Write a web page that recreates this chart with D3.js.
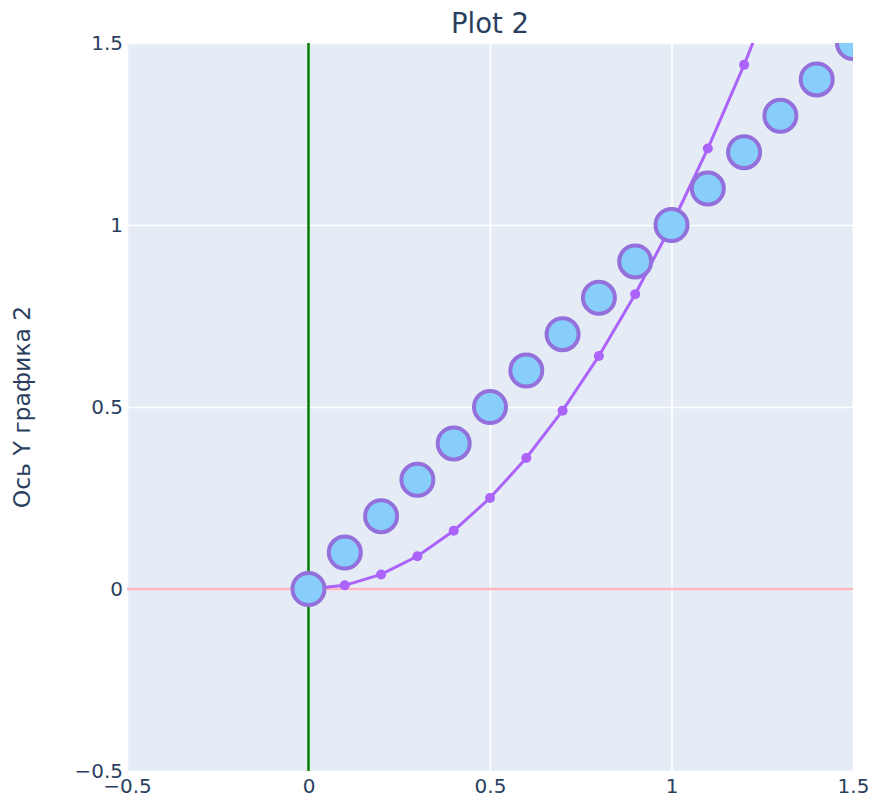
<!DOCTYPE html>
<html><head><meta charset="utf-8">
<script src="https://cdn.jsdelivr.net/npm/d3@7"></script>
<style>body{margin:0;background:#fff}svg{display:block}</style>
</head><body>
<svg id="chart" width="872" height="798"></svg>
<script>
const bigX = [0,0.1,0.2,0.3,0.4,0.5,0.6,0.7,0.8,0.9,1.0,1.1,1.2,1.3,1.4,1.5];
const bigY = [0,0.1,0.2,0.3,0.4,0.5,0.6,0.7,0.8,0.9,1.0,1.1,1.2,1.3,1.4,1.5];
const lineX = [0,0.1,0.2,0.3,0.4,0.5,0.6,0.7,0.8,0.9,1.0,1.1,1.2,1.3,1.4,1.5];
const lineY = [0,0.01,0.04,0.09,0.16,0.25,0.36,0.49,0.64,0.81,1.0,1.21,1.44,1.69,1.96,2.25];
const xTicks = [-0.5,0,0.5,1,1.5];
const yTicks = [-0.5,0,0.5,1,1.5];
const xDomain = [-0.5,1.5];
const yDomain = [-0.5,1.5];
const titleText = "Plot 2";
const yTitleText = "Ось Y графика 2";

const svg = d3.select("#chart");
const m = {l:127, r:872-853, t:43, b:798-771};
const W = 872, H = 798;
const x = d3.scaleLinear().domain(xDomain).range([m.l, W-m.r]);
const y = d3.scaleLinear().domain(yDomain).range([H-m.b, m.t]);
const font = "'DejaVu Sans', Verdana, sans-serif";
const txt = "#2a3f5f";

svg.append("defs").append("clipPath").attr("id","clip")
  .append("rect").attr("x",m.l).attr("y",m.t).attr("width",W-m.l-m.r).attr("height",H-m.t-m.b);

svg.append("rect").attr("x",m.l).attr("y",m.t).attr("width",W-m.l-m.r).attr("height",H-m.t-m.b).attr("fill","#e5ecf6");

// grid
const xg = d3.axisBottom(x).tickValues(xTicks).tickSize(-(H-m.t-m.b)).tickFormat("");
svg.append("g").attr("transform",`translate(0,${H-m.b})`).call(xg)
  .call(g=>{g.select(".domain").remove();g.selectAll("line").attr("stroke","#fff").attr("stroke-width",1.6);});
const yg = d3.axisLeft(y).tickValues(yTicks).tickSize(-(W-m.l-m.r)).tickFormat("");
svg.append("g").attr("transform",`translate(${m.l},0)`).call(yg)
  .call(g=>{g.select(".domain").remove();g.selectAll("line").attr("stroke","#fff").attr("stroke-width",1.6);});

// zero lines
svg.append("line").attr("x1",m.l).attr("x2",W-m.r).attr("y1",y(0)).attr("y2",y(0))
  .attr("stroke","#ffb6c1").attr("stroke-width",2.5);
svg.append("line").attr("x1",x(0)).attr("x2",x(0)).attr("y1",m.t).attr("y2",H-m.b)
  .attr("stroke","#008000").attr("stroke-width",2.5);

const fmt = d => d < 0 ? "\u2212" + Math.abs(d) : String(d);
// tick labels
const xa = d3.axisBottom(x).tickValues(xTicks).tickSize(0).tickPadding(8).tickFormat(fmt);
svg.append("g").attr("transform",`translate(0,${H-m.b})`).call(xa)
  .call(g=>{g.select(".domain").remove();g.selectAll("text").attr("fill",txt).attr("font-family",font).attr("font-size",20);});
const ya = d3.axisLeft(y).tickValues(yTicks).tickSize(0).tickPadding(4).tickFormat(fmt);
svg.append("g").attr("transform",`translate(${m.l},0)`).call(ya)
  .call(g=>{g.select(".domain").remove();g.selectAll("text").attr("fill",txt).attr("font-family",font).attr("font-size",20);});

const plot = svg.append("g").attr("clip-path","url(#clip)");
const lineData = lineX.map((v,i)=>[v,lineY[i]]);
plot.append("path").datum(lineData).attr("fill","none").attr("stroke","#ab63fa").attr("stroke-width",3)
  .attr("d", d3.line().x(d=>x(d[0])).y(d=>y(d[1])));
plot.selectAll(".sm").data(lineData).join("circle").attr("class","sm")
  .attr("cx",d=>x(d[0])).attr("cy",d=>y(d[1])).attr("r",5).attr("fill","#ab63fa");
const bigData = bigX.map((v,i)=>[v,bigY[i]]);
plot.selectAll(".big").data(bigData).join("circle").attr("class","big")
  .attr("cx",d=>x(d[0])).attr("cy",d=>y(d[1])).attr("r",16)
  .attr("fill","#87cefa").attr("stroke","#9370db").attr("stroke-width",4);

svg.append("text").attr("x",(m.l+W-m.r)/2).attr("y",33).attr("text-anchor","middle")
  .attr("font-family",font).attr("font-size",27.5).attr("fill",txt).text(titleText);
svg.append("text").attr("transform",`translate(30,${(m.t+H-m.b)/2}) rotate(-90)`).attr("text-anchor","middle")
  .attr("font-family",font).attr("font-size",23.5).attr("fill",txt).text(yTitleText);
</script>
</body></html>
